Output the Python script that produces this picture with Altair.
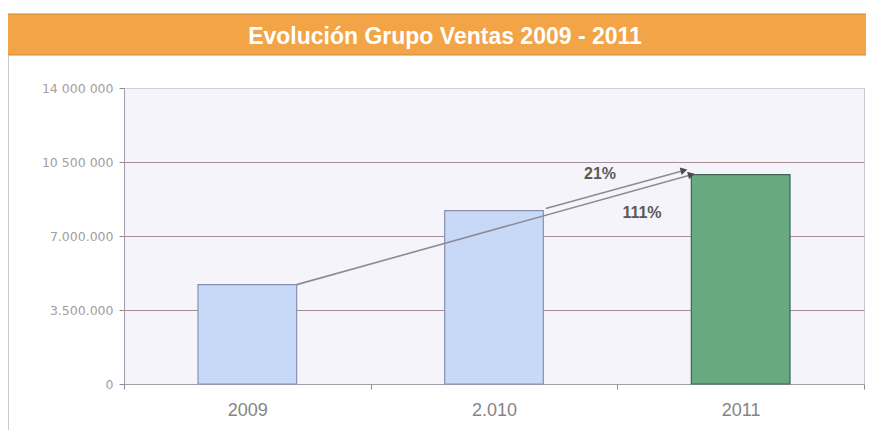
import altair as alt
import pandas as pd

# ---- data ----
years = ["2009", "2.010", "2011"]
ventas = [4700000, 8200000, 9900000]
bar_fill = ["#c8d9f7", "#c8d9f7", "#68a982"]
bar_stroke = ["#8a8fb0", "#8a8fb0", "#3f6450"]

y_ticks = [0, 3500000, 7000000, 10500000, 14000000]
y_tick_labels = ["0", "3.500.000", "7.000.000", "10 500 000", "14 000 000"]

# arrows (x in category-index units, y in sales units)
arrow_x0 = [0.2, 1.21]
arrow_y0 = [4700000, 8300000]
arrow_x1 = [1.80, 1.77]
arrow_y1 = [9900000, 10100000]

# growth annotations
ann_text = ["21%", "111%"]
ann_x = [1.43, 1.60]
ann_y = [9930000, 8090000]

title_text = "Evolución Grupo Ventas 2009 - 2011"

W, H = 740, 296
FONT = "Liberation Sans"

df = pd.DataFrame({"year": years, "ventas": ventas})
arrows = pd.DataFrame({"x0": arrow_x0, "y0": arrow_y0, "x1": arrow_x1, "y1": arrow_y1})
ann = pd.DataFrame({"t": ann_text, "x": ann_x, "y": ann_y})
one = pd.DataFrame({"k": [0]})

label_expr = " : ".join(
    f"datum.value == {v} ? '{l}'" for v, l in zip(y_ticks, y_tick_labels)
) + " : ''"

yscale = alt.Scale(domain=[0, 14000000], nice=False, zero=True)
xq = alt.Scale(domain=[-0.5, 2.5], nice=False, zero=False)

bars = alt.Chart(df).mark_bar(width=alt.RelativeBandSize(0.4), strokeWidth=1.2).encode(
    x=alt.X("year:N", sort=years, title=None,
            scale=alt.Scale(paddingInner=0, paddingOuter=0),
            axis=alt.Axis(labelAngle=0, tickBand="extent", tickSize=5, labelPadding=12,
                          labelColor="#858585", labelFontSize=18, labelFont=FONT,
                          domainColor="#a0a0a8", tickColor="#8a8a92", grid=False)),
    y=alt.Y("ventas:Q", scale=yscale, title=None,
            axis=alt.Axis(values=y_ticks, labelExpr=label_expr, tickSize=5, labelPadding=6,
                          labelColor="#a0a0a0", labelFontSize=12.5, labelFont="DejaVu Sans",
                          domainColor="#a0a0a8", tickColor="#8a8a92",
                          grid=True, gridWidth=1.2,
                          gridColor={"condition": {"test": "datum.value >= 14000000 || datum.value <= 0",
                                                   "value": "#d0d0da"},
                                     "value": "#a58d96"})),
    color=alt.Color("year:N", scale=alt.Scale(domain=years, range=bar_fill), legend=None),
    stroke=alt.Stroke("year:N", scale=alt.Scale(domain=years, range=bar_stroke), legend=None),
)

arrow_lines = alt.Chart(arrows).mark_rule(color="#8c8c98", strokeWidth=1.6).encode(
    x=alt.X("x0:Q", scale=xq, axis=None),
    x2="x1",
    y=alt.Y("y0:Q", scale=yscale, axis=None),
    y2="y1",
)

arrow_heads = alt.Chart(arrows).mark_point(
    shape="triangle-right", filled=True, size=60, angle=345, color="#4a4a4a", opacity=1
).encode(
    x=alt.X("x1:Q", scale=xq, axis=None),
    y=alt.Y("y1:Q", scale=yscale, axis=None),
)

labels = alt.Chart(ann).mark_text(
    font=FONT, fontSize=16, fontWeight="bold", color="#5a5a5a"
).encode(
    x=alt.X("x:Q", scale=xq, axis=None),
    y=alt.Y("y:Q", scale=yscale, axis=None),
    text="t:N",
)

header = alt.Chart(one).mark_rect(
    color="#f2a446", stroke="#d08a3c", strokeWidth=1
).encode(
    x=alt.value(-117), x2=alt.value(752), y=alt.value(-74), y2=alt.value(-33)
)

header_text = alt.Chart(one).mark_text(
    font=FONT, fontSize=23, fontWeight="bold", color="white", baseline="middle", align="center"
).encode(
    x=alt.value(321), y=alt.value(-51), text=alt.value(title_text)
)

left_border = alt.Chart(one).mark_rule(color="#a8a8a8", strokeWidth=1.2).encode(
    x=alt.value(-116), y=alt.value(-33), y2=alt.value(352)
)

chart = alt.layer(
    header, header_text, left_border, bars, arrow_lines, arrow_heads, labels
).resolve_scale(
    x="independent", y="independent"
).properties(
    width=W, height=H,
    autosize=alt.AutoSizeParams(type="none"),
    padding={"left": 116, "top": 80, "right": 2, "bottom": 46},
    background="white",
).configure_view(
    fill="#f4f4fa", stroke="#c8c8d4", strokeWidth=1
)

chart.save("out.html", embed_options={"renderer": "svg", "actions": False})
